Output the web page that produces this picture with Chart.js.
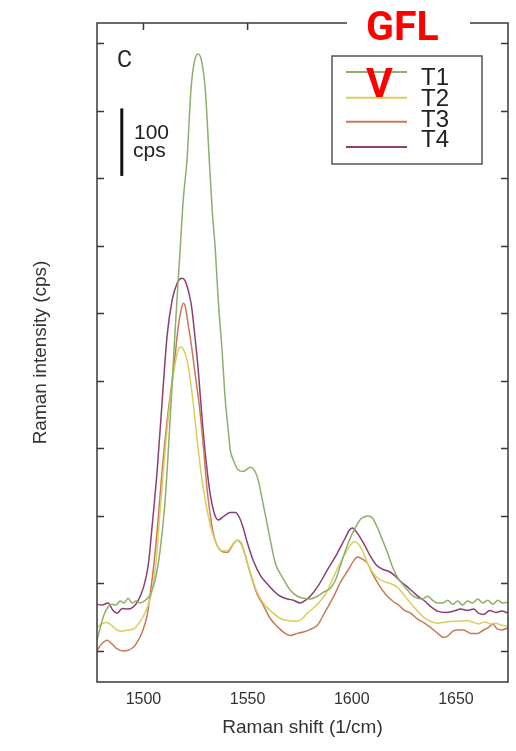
<!DOCTYPE html>
<html>
<head>
<meta charset="utf-8">
<script src="https://cdn.jsdelivr.net/npm/chart.js@4.4.0/dist/chart.umd.min.js"></script>
<style>
  html, body { margin: 0; padding: 0; background: #fff; overflow: hidden; }
</style>
</head>
<body>
<canvas id="raman" width="516" height="751"></canvas>
<script>
// Raman shift (1/cm) and intensity (cps), one pair of arrays per sample
const shiftT1 = [1477.7,1479.2,1481.1,1483.0,1485.0,1486.9,1488.8,1490.7,1492.6,1494.6,1496.5,1498.4,1500.8,1503.2,1505.6,1508.0,1510.4,1512.8,1515.2,1517.6,1519.1,1520.9,1522.8,1524.4,1526.2,1527.8,1529.7,1531.6,1533.0,1534.5,1535.9,1537.7,1539.3,1540.7,1541.7,1543.1,1545.5,1547.9,1551.3,1553.7,1555.1,1557.1,1559.0,1560.9,1563.3,1566.7,1570.5,1573.9,1576.8,1580.1,1583.5,1586.4,1589.7,1592.2,1594.6,1597.0,1599.4,1601.8,1604.2,1605.6,1608.0,1609.9,1612.4,1614.8,1617.2,1619.6,1622.0,1624.4,1626.8,1629.2,1631.6,1634.0,1636.4,1638.8,1641.2,1643.6,1646.0,1648.4,1650.8,1653.2,1655.6,1658.0,1660.5,1662.9,1665.3,1667.7,1670.1,1672.5,1674.9];
const cpsT1 = [16,34,54,65,69,68,74,71,78,71,74,71,75,83,105,149,223,342,475,594,668,727,831,872,884,875,831,727,653,594,520,446,371,327,297,283,268,266,272,265,253,223,194,164,130,109,90,81,78,77,81,87,93,105,127,149,168,183,195,198,200,197,182,164,145,124,109,99,90,82,78,77,81,75,71,71,75,69,74,68,74,71,77,71,75,69,75,71,72];

const shiftT2 = [1477.7,1480.1,1482.5,1485.0,1487.4,1489.8,1492.2,1495.0,1497.5,1499.9,1502.3,1504.2,1506.1,1508.0,1510.4,1512.8,1515.2,1516.7,1518.0,1519.1,1520.9,1522.5,1523.9,1525.8,1527.8,1529.7,1532.1,1534.5,1536.9,1540.2,1543.1,1545.0,1547.0,1548.9,1551.3,1554.6,1557.5,1562.3,1565.7,1569.1,1573.9,1576.3,1578.7,1583.5,1587.4,1589.7,1593.1,1597.0,1599.4,1601.3,1603.2,1605.1,1607.5,1609.9,1612.4,1615.2,1618.6,1622.0,1624.8,1628.2,1631.6,1634.5,1637.8,1641.2,1645.1,1648.4,1651.3,1654.7,1657.9,1660.9,1663.8,1666.7,1669.1,1672.0,1674.9];
const cpsT2 = [35,40,42,37,31,29,31,32,40,51,68,90,134,208,297,371,425,446,450,447,431,401,367,312,260,223,186,162,149,148,159,164,160,142,116,87,71,56,48,45,44,48,56,69,84,99,122,145,157,162,158,149,130,117,108,103,100,94,84,71,59,50,44,41,43,44,44,45,43,40,43,40,41,38,37];

const shiftT3 = [1477.7,1480.1,1482.5,1485.0,1487.4,1490.2,1492.6,1495.0,1497.0,1499.4,1501.8,1503.2,1504.7,1506.6,1509.0,1511.4,1513.8,1515.2,1516.7,1518.1,1519.1,1520.0,1521.5,1523.0,1524.9,1526.8,1528.7,1530.6,1532.1,1533.5,1536.9,1540.2,1543.1,1545.0,1547.0,1548.9,1551.3,1554.6,1557.5,1560.9,1564.3,1567.2,1570.5,1573.9,1576.8,1580.1,1583.5,1587.4,1591.2,1594.6,1597.9,1600.8,1602.7,1605.1,1607.5,1609.9,1612.8,1616.2,1619.6,1622.5,1625.3,1628.2,1631.6,1634.5,1637.8,1641.2,1644.1,1646.0,1648.4,1650.8,1653.7,1657.1,1660.5,1663.3,1665.7,1667.7,1669.6,1672.0,1674.9];
const cpsT3 = [1,11,16,10,3,0,1,5,13,28,53,83,120,179,268,342,401,438,480,505,515,511,483,453,408,364,305,238,201,174,149,146,158,164,158,141,115,84,68,48,36,28,23,26,28,32,38,59,80,102,118,133,139,136,130,115,99,84,74,68,60,56,47,42,35,26,20,22,29,31,31,26,26,31,35,40,33,31,34];

const shiftT4 = [1477.7,1480.1,1483.0,1485.4,1487.4,1489.8,1492.2,1495.0,1497.5,1499.9,1502.3,1504.2,1506.6,1509.0,1511.4,1513.8,1516.2,1517.6,1518.6,1520.0,1521.5,1523.0,1524.4,1526.3,1528.2,1530.1,1532.1,1534.0,1535.9,1538.8,1541.7,1544.1,1546.0,1547.9,1549.8,1552.7,1556.1,1559.5,1562.8,1565.7,1569.1,1572.0,1575.3,1577.7,1580.1,1584.0,1588.3,1593.1,1597.0,1598.9,1600.3,1602.3,1604.2,1606.1,1609.0,1611.9,1614.8,1617.6,1620.5,1623.4,1626.3,1629.2,1632.1,1635.0,1637.8,1641.2,1645.1,1648.9,1652.3,1655.6,1658.5,1660.9,1663.3,1666.2,1669.1,1672.0,1674.9];
const cpsT4 = [69,68,71,60,56,63,62,65,75,93,127,186,268,371,468,520,545,551,552,548,534,512,475,416,342,280,231,204,194,200,205,205,198,182,161,134,112,99,88,81,77,75,71,75,81,97,120,145,168,179,182,176,167,157,140,127,121,118,112,103,96,88,80,74,66,59,57,59,62,60,62,56,54,60,57,59,56];

const sampleNames = ['T1', 'T2', 'T3', 'T4'];
const sampleColors = ['#8fae6e', '#d9cf5a', '#c9795a', '#8b3f73'];
const xTicks = [1500, 1550, 1600, 1650];
const yTicks = [0, 100, 200, 300, 400, 500, 600, 700, 800, 900];

function toPoints(xs, ys) {
  return xs.map((v, i) => ({ x: v, y: ys[i] }));
}

const series = [
  toPoints(shiftT1, cpsT1),
  toPoints(shiftT2, cpsT2),
  toPoints(shiftT3, cpsT3),
  toPoints(shiftT4, cpsT4)
];

// frame with inward ticks, scale bar, legend box and the labels on the figure
const figureDecor = {
  id: 'figureDecor',
  afterDatasetsDraw(chart) {
    const { ctx, chartArea: a, scales: { x, y } } = chart;
    ctx.save();

    ctx.strokeStyle = '#3a3a3a';
    ctx.lineWidth = 1.5;
    ctx.strokeRect(a.left, a.top, a.right - a.left, a.bottom - a.top);

    ctx.beginPath();
    yTicks.forEach(v => {
      const py = Math.round(y.getPixelForValue(v)) + 0.5;
      ctx.moveTo(a.left, py); ctx.lineTo(a.left + 7, py);
      ctx.moveTo(a.right, py); ctx.lineTo(a.right - 7, py);
    });
    xTicks.forEach(v => {
      const px = x.getPixelForValue(v);
      ctx.moveTo(px, a.top); ctx.lineTo(px, a.top + 7);
    });
    ctx.stroke();

    // panel letter
    ctx.fillStyle = '#222';
    ctx.font = '23px Roboto, "Liberation Sans", sans-serif';
    ctx.textBaseline = 'alphabetic';
    ctx.fillText('C', 117, 67);

    // 100 cps scale bar
    const barX = x.getPixelForValue(1489.6);
    ctx.strokeStyle = '#111';
    ctx.lineWidth = 3;
    ctx.beginPath();
    ctx.moveTo(barX, y.getPixelForValue(803.5));
    ctx.lineTo(barX, y.getPixelForValue(703.5));
    ctx.stroke();
    ctx.fillStyle = '#222';
    ctx.font = '21px "Liberation Sans", sans-serif';
    ctx.fillText('100', 134, 139);
    ctx.fillText('cps', 133, 157);

    // legend
    ctx.strokeStyle = '#555';
    ctx.lineWidth = 1.5;
    ctx.strokeRect(332, 56, 150, 108);
    const lineY = [72, 97.7, 121.7, 147];
    const textY = [85, 105.5, 126.5, 147];
    ctx.font = '24px "Liberation Sans", sans-serif';
    chart.data.datasets.forEach((ds, i) => {
      ctx.strokeStyle = ds.borderColor;
      ctx.lineWidth = 2;
      ctx.beginPath();
      ctx.moveTo(346, lineY[i]);
      ctx.lineTo(407, lineY[i]);
      ctx.stroke();
      ctx.fillStyle = '#222';
      ctx.fillText(ds.label, 421, textY[i]);
    });

    // overlaid tag
    ctx.fillStyle = '#fff';
    ctx.fillRect(347, 0, 123, 50);
    ctx.fillStyle = '#ff0000';
    ctx.font = 'bold 41px Roboto, "Liberation Sans", sans-serif';
    ctx.fillText('GFL', 366, 40);
    ctx.fillText('V', 366, 97);

    ctx.restore();
  }
};

new Chart(document.getElementById('raman'), {
  type: 'line',
  data: {
    datasets: series.map((pts, i) => ({
      label: sampleNames[i],
      data: pts,
      borderColor: sampleColors[i],
      borderWidth: 1.5,
      pointRadius: 0,
      fill: false,
      cubicInterpolationMode: 'monotone'
    }))
  },
  options: {
    responsive: false,
    animation: false,
    devicePixelRatio: 1,
    layout: { padding: { top: 23, right: 8, left: 0, bottom: 0 } },
    plugins: {
      legend: { display: false },
      tooltip: { enabled: false }
    },
    scales: {
      x: {
        type: 'linear',
        min: 1477.7,
        max: 1675,
        afterFit: (s) => { s.height = 69; },
        afterBuildTicks: (s) => { s.ticks = xTicks.map(v => ({ value: v })); },
        grid: { display: false, drawTicks: false },
        border: { display: false },
        ticks: {
          padding: 8,
          color: '#333',
          font: { size: 16, family: '"Liberation Sans"' },
          callback: (v) => String(v)
        },
        title: {
          display: true,
          text: 'Raman shift (1/cm)',
          color: '#333',
          font: { size: 19, family: '"Liberation Sans"' },
          padding: { top: 0, bottom: 12 }
        }
      },
      y: {
        min: -46,
        max: 930,
        afterFit: (s) => { s.width = 97; },
        afterBuildTicks: (s) => { s.ticks = yTicks.map(v => ({ value: v })); },
        grid: { display: false, drawTicks: false },
        border: { display: false },
        ticks: { display: false },
        title: {
          display: true,
          text: 'Raman intensity (cps)',
          color: '#333',
          font: { size: 19, family: '"Liberation Sans"' },
          padding: { top: 29, bottom: 0 }
        }
      }
    }
  },
  plugins: [figureDecor]
});
</script>
</body>
</html>
